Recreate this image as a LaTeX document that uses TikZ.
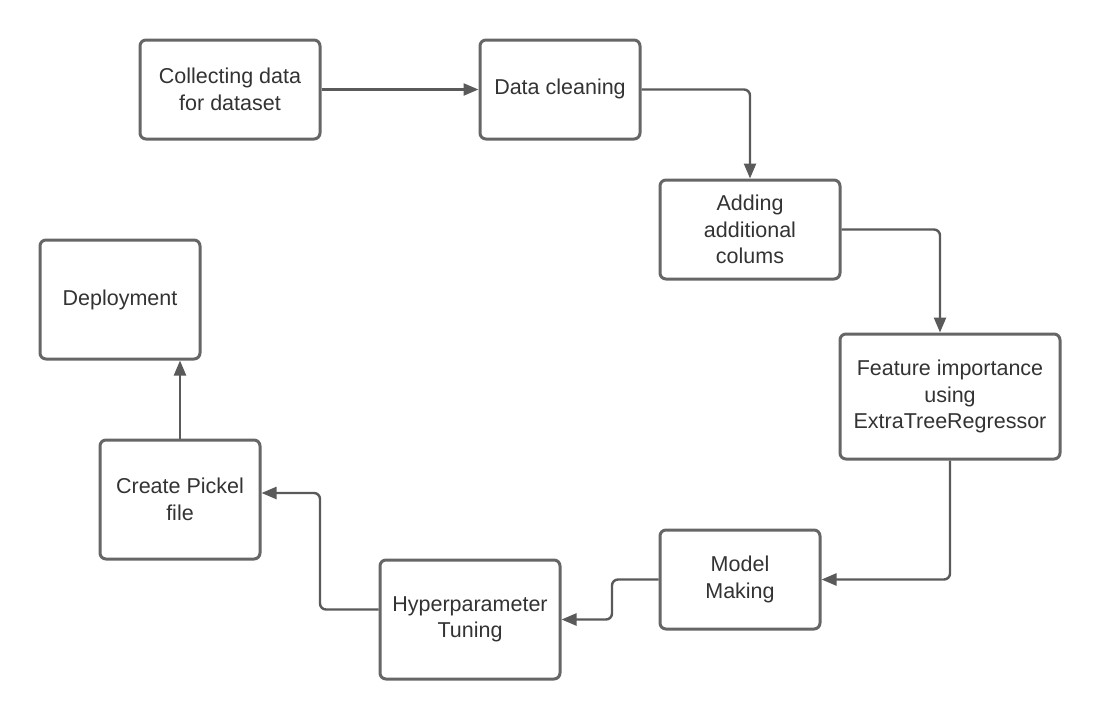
\documentclass[tikz,border=0pt]{standalone}
\usepackage{fontspec}
\setmainfont{Liberation Sans}
\usetikzlibrary{arrows.meta}
\definecolor{boxline}{HTML}{666666}
\definecolor{conn}{HTML}{5A5A5A}
\definecolor{txt}{HTML}{333333}
\begin{document}
\begin{tikzpicture}[x=1pt,y=-1pt,
  stepbox/.style={draw=boxline,line width=3pt,rounded corners=6pt,fill=white,
    align=center,text=txt,inner sep=0pt,
    font=\fontsize{21.5}{26.5}\selectfont},
  conn/.style={draw=conn,line width=2.4pt,rounded corners=6pt,
    -{Triangle[length=15pt,width=12pt]}}]
\useasboundingbox (0,0) rectangle (1100,720);
\fill[white] (0,0) rectangle (1100,720);
\node[stepbox,minimum width=180pt,minimum height=99pt] (collect) at (230,89.5) {Collecting data\\for dataset};
\node[stepbox,minimum width=160pt,minimum height=99pt,text depth=6pt] (clean) at (560,89.5) {Data cleaning};
\node[stepbox,minimum width=180pt,minimum height=99pt] (adding) at (750,229.5) {Adding\\additional\\colums};
\node[stepbox,minimum width=220pt,minimum height=125pt] (feature) at (950,396.5) {Feature importance\\using\\ExtraTreeRegressor};
\node[stepbox,minimum width=160pt,minimum height=99pt] (model) at (740,579.5) {Model\\Making};
\node[stepbox,minimum width=180pt,minimum height=119pt] (hyper) at (470,619.5) {Hyperparameter\\Tuning};
\node[stepbox,minimum width=160pt,minimum height=119pt] (pickel) at (180,499.5) {Create Pickel\\file};
\node[stepbox,minimum width=160pt,minimum height=119pt] (deploy) at (120,299.5) {Deployment};

\draw[conn] (collect.east) -- (clean.west);
\draw[conn] (clean.east) -| (adding.north);
\draw[conn] (adding.east) -| ([xshift=-10pt]feature.north);
\draw[conn] (feature.south) |- (model.east);
\draw[conn] (model.west) -- (612,579.5) -- (612,619.5) -- (hyper.east);
\draw[conn] ([yshift=10pt]hyper.west) -- (320,609.5) -- (320,493) -- ([yshift=6.5pt]pickel.east);
\draw[conn] (pickel.north) -- (pickel.north |- deploy.south);
\end{tikzpicture}
\end{document}
